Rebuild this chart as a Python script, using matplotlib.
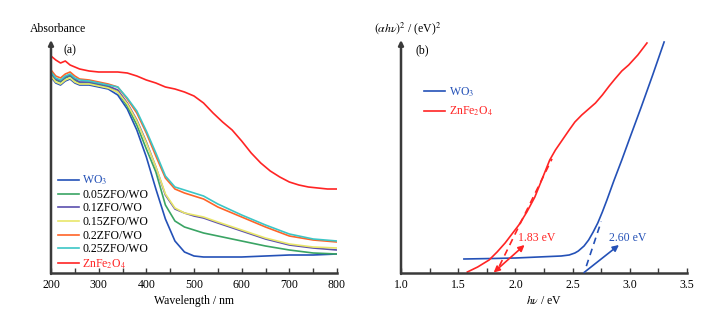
import matplotlib
matplotlib.use("Agg")
import matplotlib.pyplot as plt

plt.rcParams['font.family'] = ['Liberation Serif', 'DejaVu Serif']
plt.rcParams['mathtext.fontset'] = 'stix'

# ---------------- data: panel (a) ----------------
wavelength = [200, 210, 220, 230, 240, 250, 260, 280, 300, 320, 340, 360, 380, 400,
              420, 440, 460, 480, 500, 520, 550, 600, 650, 700, 750, 800]
abs_wo3 = [196, 190, 188, 192, 194, 190, 188, 188, 186, 184, 178, 164, 143, 116,
           84, 54, 32, 21, 17, 16, 16, 16, 17, 18, 18, 19]
abs_005 = [199, 193, 191, 195, 197, 193, 190, 190, 188, 186, 181, 167, 148, 124,
           101, 68, 52, 46, 43, 40, 37, 32, 27, 23, 20, 19]
abs_01 = [200, 194, 192, 196, 198, 194, 191, 191, 189, 187, 183, 170, 153, 131,
          106, 78, 64, 60, 57, 55, 50, 42, 34, 28, 25, 23]
abs_015 = [197, 191, 189, 193, 195, 191, 189, 189, 187, 185, 181, 169, 152, 130,
           106, 79, 65, 60, 58, 56, 51, 43, 35, 29, 26, 25]
abs_02 = [203, 197, 195, 199, 201, 197, 194, 193, 191, 189, 186, 174, 160, 140,
          117, 95, 84, 80, 77, 74, 66, 56, 46, 37, 33, 31]
abs_025 = [201, 195, 193, 197, 199, 195, 193, 192, 190, 188, 186, 175, 162, 142,
           120, 97, 86, 83, 80, 77, 69, 58, 48, 39, 34, 32]
wavelength_zfo = [200, 210, 220, 230, 240, 260, 280, 300, 320, 340, 360, 380, 400, 420,
                  440, 460, 480, 500, 520, 540, 560, 580, 600, 620, 640, 660, 680,
                  700, 720, 740, 760, 780, 800]
abs_zfo = [217, 213, 210, 212, 208, 204, 202, 201, 201, 201, 200, 197, 193, 190,
           186, 184, 181, 177, 170, 160, 151, 143, 132, 120, 110, 102, 96,
           91, 88, 86, 85, 84, 84]
labels_a = ['WO$_3$', '0.05ZFO/WO', '0.1ZFO/WO', '0.15ZFO/WO', '0.2ZFO/WO',
            '0.25ZFO/WO', 'ZnFe$_2$O$_4$']

# ---------------- data: panel (b) ----------------
energy_wo3 = [1.55, 1.8, 2.0, 2.2, 2.4, 2.47, 2.52, 2.55, 2.60, 2.64, 2.68, 2.72,
              2.76, 2.80, 2.86, 2.93, 3.00, 3.10, 3.20, 3.30]
tauc_wo3 = [14, 14.5, 15, 16, 17, 18, 20, 22, 27, 33, 41, 50,
            61, 73, 92, 113, 135, 166, 198, 231]
energy_zfo = [1.58, 1.67, 1.77, 1.84, 1.91, 1.97, 2.03, 2.10, 2.17, 2.23, 2.30, 2.35,
              2.41, 2.47, 2.52, 2.58, 2.64, 2.70, 2.76, 2.82, 2.87, 2.93, 2.99,
              3.07, 3.15]
tauc_zfo = [1, 6, 13, 21, 30, 39, 48, 61, 76, 93, 113, 123,
            133, 143, 151, 158, 164, 170, 178, 187, 194, 202, 208,
            218, 230]
gap_wo3 = 2.60
gap_zfo = 1.83
labels_b = ['WO$_3$', 'ZnFe$_2$O$_4$']

c_blue = '#2451b7'
c_green = '#3aa464'
c_purple = '#5b4fae'
c_yellow = '#e9e66a'
c_orange = '#ff6428'
c_cyan = '#3cc6c6'
c_red = '#ff2424'
spine_c = '#3a3a3a'

W, H = 724, 319
fig = plt.figure(figsize=(W / 100, H / 100), dpi=100)


def fx(px):
    return px / W


def fy(py):
    return 1 - py / H


ax1 = fig.add_axes([fx(51), fy(273), fx(337) - fx(51), fy(40) - fy(273)])
ax2 = fig.add_axes([fx(401), fy(273), fx(687) - fx(401), fy(40) - fy(273)])

for ax in (ax1, ax2):
    ax.patch.set_alpha(0)
    for s in ('top', 'right', 'left'):
        ax.spines[s].set_visible(False)
    ax.spines['bottom'].set_linewidth(1.8)
    ax.spines['bottom'].set_color(spine_c)
    ax.set_yticks([])
    ax.tick_params(axis='x', which='both', direction='in', length=3.5, width=1,
                   color=spine_c, labelsize=8.5, pad=4)
    ax.annotate('', xy=(0, 1.0), xytext=(0, -0.004), xycoords='axes fraction',
                arrowprops=dict(arrowstyle='-|>', lw=1.8, color=spine_c,
                                mutation_scale=7, shrinkA=0, shrinkB=0))

# ---- panel (a)
series = [abs_wo3, abs_005, abs_01, abs_015, abs_02, abs_025]
colors = [c_blue, c_green, c_purple, c_yellow, c_orange, c_cyan]
handles = []
for ys, col, lab in zip(series, colors, labels_a[:6]):
    h, = ax1.plot(wavelength, ys, color=col, lw=1.2, label=lab)
    handles.append(h)
h, = ax1.plot(wavelength_zfo, abs_zfo, color=c_red, lw=1.2, label=labels_a[6])
handles.append(h)
ax1.set_xlim(200, 800)
ax1.set_ylim(0, 233)
ax1.set_xticks([200, 300, 400, 500, 600, 700, 800])
ax1.set_xticks([250, 350, 450, 550, 650, 750], minor=True)
ax1.set_xlabel('Wavelength / nm', fontsize=8.5, labelpad=3)

leg1 = ax1.legend(handles=handles, loc='lower left', bbox_to_anchor=(0.0, -0.02),
                  frameon=False, fontsize=8.5, handlelength=1.75, handletextpad=0.3,
                  labelspacing=0.14, borderaxespad=0.2)
for t, col in zip(leg1.get_texts(), colors + [c_red]):
    if col == c_blue:
        t.set_color(c_blue)
    elif col == c_red:
        t.set_color(c_red)
    else:
        t.set_color('black')

fig.text(fx(58), fy(29), 'Absorbance', fontsize=8.5, ha='center', va='center')
fig.text(fx(70), fy(50), '(a)', fontsize=8.5, ha='center', va='center')

# ---- panel (b)
hb1, = ax2.plot(energy_wo3, tauc_wo3, color=c_blue, lw=1.2, label=labels_b[0])
hb2, = ax2.plot(energy_zfo, tauc_zfo, color=c_red, lw=1.2, label=labels_b[1])
ax2.set_xlim(1.0, 3.5)
ax2.set_ylim(0, 233)
ax2.set_xticks([1.0, 1.5, 2.0, 2.5, 3.0, 3.5])
ax2.set_xticklabels(['1.0', '1.5', '2.0', '2.5', '3.0', '3.5'])
ax2.set_xticks([1.25, 1.75, 2.25, 2.75, 3.25], minor=True)
ax2.set_xlabel(r'$h\nu$ / eV', fontsize=8.5, labelpad=3)

# tangent lines
s_wo3 = 343
ax2.plot([gap_wo3 + 0.02, 2.75], [s_wo3 * 0.02, s_wo3 * (2.75 - gap_wo3)],
         color=c_blue, lw=1.2, ls=(0, (4, 3)))
s_zfo = 233
ax2.plot([1.86, 2.32], [s_zfo * (1.86 - gap_zfo), s_zfo * (2.32 - gap_zfo)],
         color=c_red, lw=1.2, ls=(0, (4, 3)))

# arrows
ax2.annotate('', xy=(2.905, 28), xytext=(gap_wo3, 0.5),
             arrowprops=dict(arrowstyle='-|>', color=c_blue, lw=1.2,
                             mutation_scale=9, shrinkA=0, shrinkB=0))
ax2.annotate('', xy=(2.08, 28), xytext=(gap_zfo - 0.02, 0.5),
             arrowprops=dict(arrowstyle='<|-|>', color=c_red, lw=1.2,
                             mutation_scale=9, shrinkA=0, shrinkB=0))
ax2.text(2.98, 35, f'{gap_wo3:.2f} eV', color=c_blue, fontsize=8.5,
         ha='center', va='center')
ax2.text(2.19, 35, f'{gap_zfo:.2f} eV', color=c_red, fontsize=8.5,
         ha='center', va='center')

leg2 = ax2.legend(handles=[hb1, hb2], loc='upper left', bbox_to_anchor=(0.065, 0.825),
                  frameon=False, fontsize=8.5, handlelength=1.75, handletextpad=0.3,
                  labelspacing=0.5, borderaxespad=0.0)
leg2.get_texts()[0].set_color(c_blue)
leg2.get_texts()[1].set_color(c_red)

fig.text(fx(408), fy(29), r'$(\alpha h\nu)^2$ / (eV)$^2$', fontsize=8.5,
         ha='center', va='center')
fig.text(fx(422), fy(50), '(b)', fontsize=8.5, ha='center', va='center')

fig.savefig('out.png', dpi=100)
